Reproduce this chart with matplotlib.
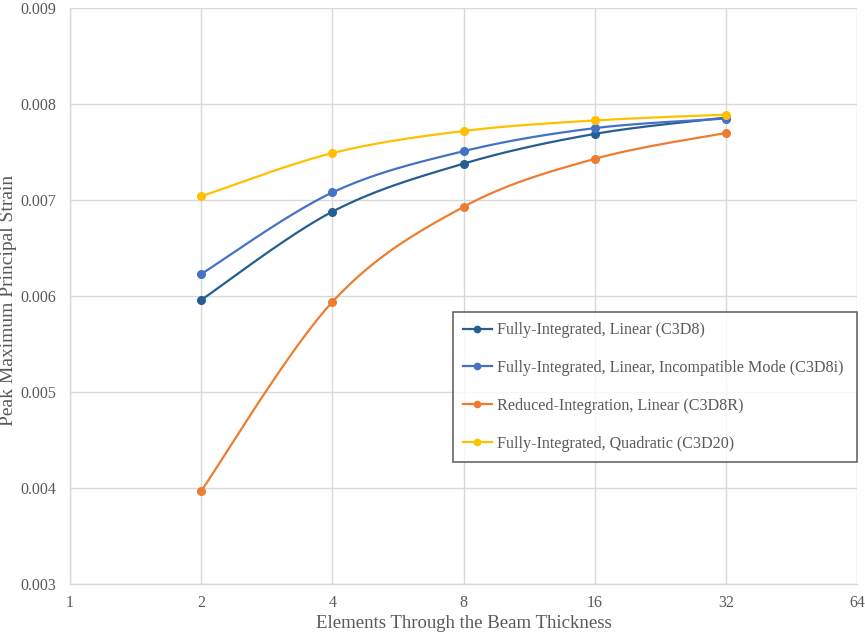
import matplotlib
matplotlib.use("Agg")
import matplotlib.pyplot as plt
import numpy as np

elements = [2, 4, 8, 16, 32]
c3d8 = [0.00596, 0.00688, 0.00738, 0.00769, 0.00786]
c3d8i = [0.00623, 0.00708, 0.00751, 0.00775, 0.00785]
c3d8r = [0.00397, 0.00594, 0.00693, 0.00743, 0.00770]
c3d20 = [0.00704, 0.00749, 0.00772, 0.00783, 0.00789]

labels = ["Fully-Integrated, Linear (C3D8)",
          "Fully-Integrated, Linear, Incompatible Mode (C3D8i)",
          "Reduced-Integration, Linear (C3D8R)",
          "Fully-Integrated, Quadratic (C3D20)"]
colors = ["#255e91", "#4472c4", "#ed7d31", "#ffc000"]
xticks = [1, 2, 4, 8, 16, 32, 64]
yticks = [0.003, 0.004, 0.005, 0.006, 0.007, 0.008, 0.009]

plt.rcParams['font.family'] = ['Liberation Serif', 'DejaVu Serif']
grey = "#595959"


def smooth(xs, ys, n=40):
    # excel-ish smooth line: catmull-rom bezier in (log2 x, y) space
    u = np.log2(np.array(xs, dtype=float))
    y = np.array(ys, dtype=float)
    pts = np.column_stack([u, y])
    pts = np.vstack([pts[0], pts, pts[-1]])
    out = []
    t = np.linspace(0, 1, n)[:, None]
    for i in range(1, len(pts) - 2):
        p0, p1, p2, p3 = pts[i - 1], pts[i], pts[i + 1], pts[i + 2]
        c1 = p1 + (p2 - p0) / 6
        c2 = p2 - (p3 - p1) / 6
        seg = ((1 - t) ** 3) * p1 + 3 * ((1 - t) ** 2) * t * c1 + 3 * (1 - t) * t ** 2 * c2 + t ** 3 * p2
        out.append(seg)
    out = np.vstack(out)
    return 2 ** out[:, 0], out[:, 1]


fig = plt.figure(figsize=(8.65, 6.37), dpi=100)
ax = fig.add_axes([0.081, 0.0832, 0.91, 0.904])

for ys, lab, col in zip([c3d8, c3d8i, c3d8r, c3d20], labels, colors):
    sx, sy = smooth(elements, ys)
    ax.plot(sx, sy, color=col, lw=1.6, zorder=3)
    ax.plot(elements, ys, 'o', color=col, ms=5.5, zorder=4)
    ax.plot([], [], '-o', color=col, lw=1.6, ms=4.5, label=lab)

ax.set_xscale('log', base=2)
ax.set_xlim(1, 64)
ax.set_ylim(0.003, 0.009)
ax.set_xticks(xticks)
ax.set_xticklabels([str(v) for v in xticks])
ax.set_yticks(yticks)
ax.set_yticklabels(["%.3f" % v for v in yticks])
ax.minorticks_off()
ax.grid(True, color="#d9d9d9", lw=1)
ax.set_axisbelow(True)
for s in ['top', 'right']:
    ax.spines[s].set_visible(False)
for s in ['left', 'bottom']:
    ax.spines[s].set_color("#d9d9d9")
    ax.spines[s].set_linewidth(1)
ax.tick_params(axis='y', length=0, labelsize=11.5, colors=grey, pad=10)
ax.tick_params(axis='x', length=0, labelsize=11.5, colors=grey, pad=8)

ax.set_xlabel("Elements Through the Beam Thickness", fontsize=13.5, color=grey, labelpad=3)
ax.set_ylabel("Peak Maximum Principal Strain", fontsize=14, color=grey, labelpad=0)
ax.yaxis.set_label_coords(-0.0673, 0.492)

leg = ax.legend(loc='lower left', bbox_to_anchor=(0.487, 0.212, 0.513, 0.26), mode='expand',
                fontsize=11.6, frameon=True, fancybox=False, edgecolor="#404040",
                labelspacing=1.36, handlelength=1.75, handletextpad=0.35, borderaxespad=0,
                borderpad=0.62)
leg.get_frame().set_linewidth(1.2)
for t in leg.get_texts():
    t.set_color(grey)

fig.savefig("out.png", dpi=100)
